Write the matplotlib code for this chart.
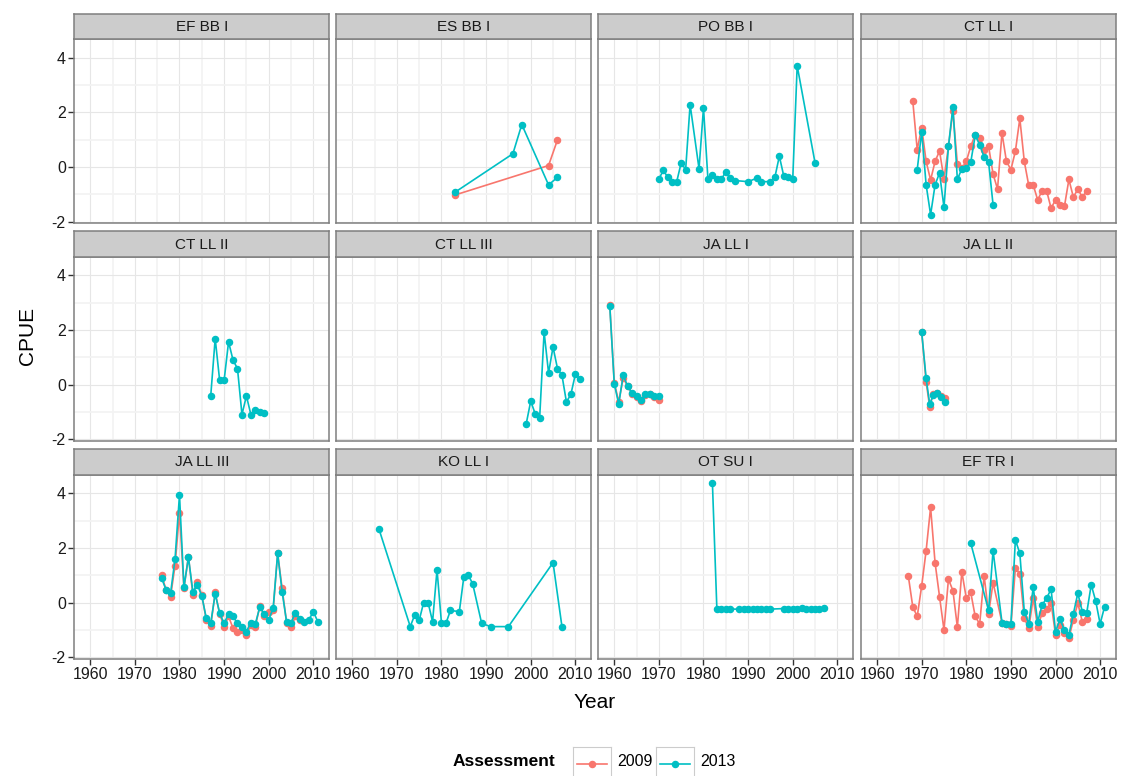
import matplotlib
matplotlib.use("Agg")
import matplotlib.pyplot as plt
from matplotlib.ticker import MultipleLocator

plt.rcParams['font.family'] = ['Liberation Sans', 'DejaVu Sans']
plt.rcParams['axes.unicode_minus'] = False

# CPUE indices per fleet, 2009 and 2013 assessments
es_bb_yr_09 = [1983, 2004, 2006]
es_bb_cpue_09 = [-1.02, 0.06, 1.00]
es_bb_yr_13 = [1983, 1996, 1998, 2004, 2006]
es_bb_cpue_13 = [-0.92, 0.49, 1.56, -0.65, -0.37]

po_bb_yr_13 = [1970, 1971, 1972, 1973, 1974, 1975, 1976, 1977, 1979, 1980, 1981, 1982, 1983, 1984,
               1985, 1986, 1987, 1990, 1992, 1993, 1995, 1996, 1997, 1998, 1999, 2000, 2001, 2005]
po_bb_cpue_13 = [-0.43, -0.12, -0.37, -0.53, -0.53, 0.16, -0.09, 2.29, -0.06, 2.17, -0.45, -0.28, -0.45, -0.45,
                 -0.16, -0.40, -0.49, -0.53, -0.40, -0.53, -0.53, -0.37, 0.40, -0.33, -0.37, -0.45, 3.71, 0.16]

ct_ll1_yr_09 = list(range(1968, 2008))
ct_ll1_cpue_09 = [2.43, 0.64, 1.45, 0.21, -0.47, 0.21, 0.59, -0.43, 0.76, 2.05, 0.12, -0.04, 0.21, 0.76,
                  1.19, 1.07, 0.64, 0.76, -0.25, -0.80, 1.25, 0.21, -0.09, 0.58, 1.78, 0.21, -0.67, -0.65,
                  -1.20, -0.86, -0.86, -1.50, -1.20, -1.37, -1.43, -0.45, -1.10, -0.80, -1.10, -0.86]
ct_ll1_yr_13 = list(range(1969, 1987))
ct_ll1_cpue_13 = [-0.09, 1.29, -0.65, -1.74, -0.65, -0.21, -1.47, 0.76, 2.20, -0.45, -0.06, -0.04, 0.18,
                  1.16, 0.82, 0.37, 0.18, -1.37]

ct_ll2_yr_13 = list(range(1987, 2000))
ct_ll2_cpue_13 = [-0.41, 1.69, 0.16, 0.16, 1.57, 0.90, 0.59, -1.09, -0.41, -1.09, -0.94, -1.00, -1.05]

ct_ll3_yr_13 = list(range(1999, 2012))
ct_ll3_cpue_13 = [-1.42, -0.60, -1.06, -1.22, 1.93, 0.43, 1.38, 0.59, 0.35, -0.63, -0.35, 0.38, 0.22]

ja_ll1_yr_09 = list(range(1959, 1971))
ja_ll1_cpue_09 = [2.90, 0.08, -0.62, 0.25, -0.05, -0.32, -0.45, -0.60, -0.38, -0.35, -0.45, -0.55]
ja_ll1_yr_13 = list(range(1959, 1971))
ja_ll1_cpue_13 = [2.87, 0.04, -0.71, 0.35, -0.05, -0.30, -0.42, -0.57, -0.35, -0.33, -0.42, -0.42]

ja_ll2_yr_09 = [1970, 1971, 1971.8, 1972.6, 1973.4, 1974.3, 1975.2]
ja_ll2_cpue_09 = [1.93, 0.10, -0.81, -0.32, -0.30, -0.42, -0.50]
ja_ll2_yr_13 = [1970, 1971, 1971.8, 1972.6, 1973.4, 1974.3, 1975.2]
ja_ll2_cpue_13 = [1.93, 0.23, -0.71, -0.38, -0.30, -0.45, -0.63]

ja_ll3_yr_09 = list(range(1976, 2008))
ja_ll3_cpue_09 = [1.00, 0.46, 0.22, 1.35, 3.29, 0.52, 1.68, 0.28, 0.77, 0.28, -0.63, -0.85, 0.37, -0.41,
                  -0.88, -0.51, -0.94, -1.06, -1.00, -1.18, -0.82, -0.88, -0.12, -0.49, -0.33, -0.27,
                  1.80, 0.52, -0.73, -0.88, -0.51, -0.65]
ja_ll3_yr_13 = list(range(1976, 2012))
ja_ll3_cpue_13 = [0.89, 0.46, 0.34, 1.59, 3.94, 0.56, 1.66, 0.40, 0.65, 0.24, -0.57, -0.76, 0.32, -0.39,
                  -0.76, -0.41, -0.51, -0.76, -0.88, -1.06, -0.73, -0.78, -0.17, -0.41, -0.63, -0.20,
                  1.80, 0.40, -0.70, -0.73, -0.37, -0.61, -0.70, -0.63, -0.33, -0.70]

ko_ll_yr_13 = [1966, 1973, 1974, 1975, 1976, 1977, 1978, 1979, 1980, 1981, 1982, 1984, 1985, 1986,
               1987, 1989, 1991, 1995, 2005, 2007]
ko_ll_cpue_13 = [2.68, -0.88, -0.45, -0.65, 0.00, 0.00, -0.70, 1.20, -0.76, -0.76, -0.29, -0.33, 0.93, 1.01,
                 0.68, -0.76, -0.88, -0.88, 1.46, -0.88]

ot_su_yr_13 = [1982, 1983, 1984, 1985, 1986, 1988, 1989, 1990, 1991, 1992, 1993, 1994, 1995,
               1998, 1999, 2000, 2001, 2002, 2003, 2004, 2005, 2006, 2007]
ot_su_cpue_13 = [4.37, -0.24, -0.24, -0.25, -0.24, -0.24, -0.25, -0.24, -0.24, -0.25, -0.24, -0.24, -0.24,
                 -0.22, -0.24, -0.24, -0.23, -0.21, -0.22, -0.24, -0.22, -0.24, -0.21]

ef_tr_yr_09 = list(range(1967, 1987)) + list(range(1988, 2008))
ef_tr_cpue_09 = [0.98, -0.15, -0.51, 0.61, 1.90, 3.48, 1.46, 0.22, -1.00, 0.85, 0.44, -0.90, 1.13, 0.16,
                 0.37, -0.51, -0.78, 0.98, -0.41, 0.73, -0.73, -0.78, -0.85, 1.26, 1.05, -0.57, -0.94,
                 0.16, -0.88, -0.39, -0.24, 0.00, -1.18, -0.82, -1.12, -1.30, -0.63, -0.02, -0.70, -0.61]
ef_tr_yr_13 = [1981, 1985, 1986] + list(range(1988, 2012))
ef_tr_cpue_13 = [2.17, -0.29, 1.90, -0.73, -0.78, -0.80, 2.29, 1.80, -0.33, -0.78, 0.56, -0.70, -0.09,
                 0.16, 0.49, -1.06, -0.61, -1.00, -1.18, -0.41, 0.34, -0.33, -0.37, 0.65, 0.06, -0.78, -0.15]

panel_names = ["EF BB I", "ES BB I", "PO BB I", "CT LL I",
               "CT LL II", "CT LL III", "JA LL I", "JA LL II",
               "JA LL III", "KO LL I", "OT SU I", "EF TR I"]

series_2009 = {
    "ES BB I": (es_bb_yr_09, es_bb_cpue_09),
    "CT LL I": (ct_ll1_yr_09, ct_ll1_cpue_09),
    "JA LL I": (ja_ll1_yr_09, ja_ll1_cpue_09),
    "JA LL II": (ja_ll2_yr_09, ja_ll2_cpue_09),
    "JA LL III": (ja_ll3_yr_09, ja_ll3_cpue_09),
    "EF TR I": (ef_tr_yr_09, ef_tr_cpue_09),
}
series_2013 = {
    "ES BB I": (es_bb_yr_13, es_bb_cpue_13),
    "PO BB I": (po_bb_yr_13, po_bb_cpue_13),
    "CT LL I": (ct_ll1_yr_13, ct_ll1_cpue_13),
    "CT LL II": (ct_ll2_yr_13, ct_ll2_cpue_13),
    "CT LL III": (ct_ll3_yr_13, ct_ll3_cpue_13),
    "JA LL I": (ja_ll1_yr_13, ja_ll1_cpue_13),
    "JA LL II": (ja_ll2_yr_13, ja_ll2_cpue_13),
    "JA LL III": (ja_ll3_yr_13, ja_ll3_cpue_13),
    "KO LL I": (ko_ll_yr_13, ko_ll_cpue_13),
    "OT SU I": (ot_su_yr_13, ot_su_cpue_13),
    "EF TR I": (ef_tr_yr_13, ef_tr_cpue_13),
}

RED = "#F8766D"
TEAL = "#00BFC4"
BORDER = "#7F7F7F"

W, H = 1125, 776
fig = plt.figure(figsize=(W / 100, H / 100), dpi=100)


def px_axes(left, top, width, height):
    return fig.add_axes([left / W, 1 - (top + height) / H, width / W, height / H])


col_left = [74.2, 336.2, 598.2, 861.0]
row_top = [39.2, 256.8, 474.6]
pw, ph = 255.2, 184.0
strip_h = 25.5

for i, name in enumerate(panel_names):
    r, c = divmod(i, 4)
    ax = px_axes(col_left[c], row_top[r], pw, ph)
    ax.set_xlim(1956.4, 2013.6)
    ax.set_ylim(-2.05, 4.68)
    ax.xaxis.set_major_locator(MultipleLocator(10))
    ax.xaxis.set_minor_locator(MultipleLocator(5))
    ax.yaxis.set_major_locator(MultipleLocator(2))
    ax.yaxis.set_minor_locator(MultipleLocator(1))
    ax.grid(which="minor", color="#F3F3F3", lw=1.3)
    ax.grid(which="major", color="#E6E6E6", lw=0.8)
    ax.set_axisbelow(True)
    for sp in ax.spines.values():
        sp.set_color(BORDER)
        sp.set_linewidth(1.1)

    if name in series_2009:
        yr, cp = series_2009[name]
        ax.plot(yr, cp, color=RED, lw=1.2, marker="o", ms=4.4, mec=RED)
    if name in series_2013:
        yr, cp = series_2013[name]
        ax.plot(yr, cp, color=TEAL, lw=1.2, marker="o", ms=4.4, mec=TEAL)

    ax.tick_params(which="minor", length=0)
    ax.tick_params(which="major", length=4, width=1, color="#333333", labelsize=11.5,
                   labelcolor="#1A1A1A", pad=2)
    if r < 2:
        ax.tick_params(axis="x", length=0, labelbottom=False)
    if c > 0:
        ax.tick_params(axis="y", length=0, labelleft=False)

    # facet strip
    st = px_axes(col_left[c], row_top[r] - strip_h, pw, strip_h)
    st.set_facecolor("#CCCCCC")
    st.set_xticks([])
    st.set_yticks([])
    for sp in st.spines.values():
        sp.set_color(BORDER)
        sp.set_linewidth(1.1)
    st.text(0.5, 0.48, name, ha="center", va="center", fontsize=11, color="#1A1A1A",
            transform=st.transAxes)

fig.text(28 / W, 1 - 336 / H, "CPUE", rotation=90, ha="center", va="center", fontsize=15)
fig.text(595 / W, 1 - 703 / H, "Year", ha="center", va="center", fontsize=15)

# legend along the bottom
fig.text(555 / W, 1 - 762 / H, "Assessment", ha="right", va="center", fontsize=12.5,
         fontweight="bold")
for k, (lab, col) in enumerate([("2009", RED), ("2013", TEAL)]):
    kx = 573 + k * 83
    kax = px_axes(kx, 747, 38, 32)
    kax.set_xlim(0, 1)
    kax.set_ylim(0, 1)
    kax.set_xticks([])
    kax.set_yticks([])
    for sp in kax.spines.values():
        sp.set_color("#CCCCCC")
        sp.set_linewidth(0.8)
    kax.plot([0.1, 0.5, 0.9], [0.47, 0.47, 0.47], color=col, lw=1.2, marker="o", ms=4.4,
             markevery=[1])
    fig.text((kx + 44) / W, 1 - 762 / H, lab, ha="left", va="center", fontsize=11.5)

fig.savefig("out.png", dpi=100)
